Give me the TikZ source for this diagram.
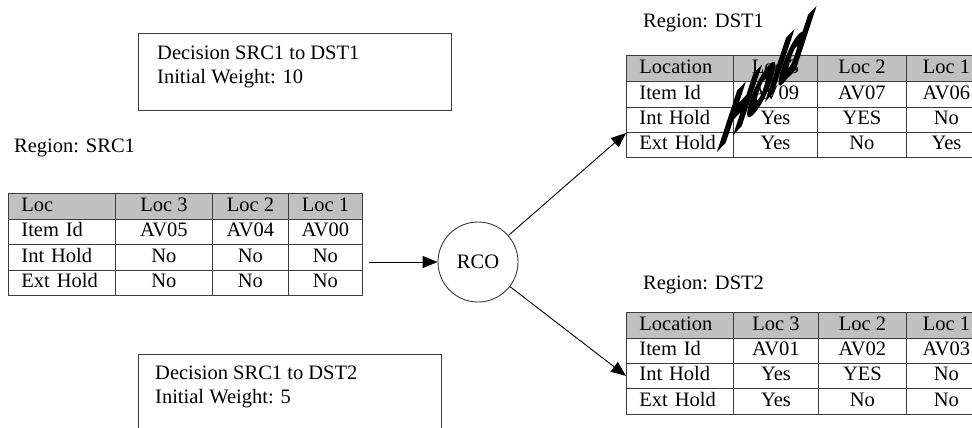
\documentclass[tikz,border=0pt]{standalone}
\usepackage{fontspec}
\setmainfont{Liberation Serif}
\newfontface\holdfont[FakeBold=10]{Liberation Sans Bold Italic}
\usetikzlibrary{arrows.meta}

\definecolor{hdrgray}{RGB}{192,192,192}
\definecolor{gridgray}{RGB}{60,60,60}
\newcommand\cellfont{\fontsize{20.5}{24}\selectfont}

\begin{document}
\begin{tikzpicture}[x=1pt,y=-1pt,
    every node/.style={font=\cellfont},
    cell/.style={draw=gridgray, line width=0.9pt, anchor=north west,
      inner sep=0pt, text height=14pt, text depth=4pt},
    namecell/.style={cell, text width=81pt, inner xsep=13pt, align=left},
    note/.style={draw=gridgray, line width=1.2pt, anchor=north west},
    link/.style={line width=0.9pt, -{Triangle[length=15pt,width=12pt]}}]

  \path[use as bounding box, fill=white] (0,0) rectangle (972,428);

  % --- the two decision notes ---
  \node[note, minimum width=313, minimum height=77] (w1box) at (138,33) {};
  \node[anchor=north west, align=left, inner sep=0pt] (w1text) at (157,46)
    {Decision SRC1 to DST1\\Initial Weight: 10};
  \node[note, minimum width=303, minimum height=77] (w2box) at (138,354) {};
  \node[anchor=north west, align=left, inner sep=0pt] (w2text) at (155,366)
    {Decision SRC1 to DST2\\Initial Weight: 5};

  % --- source region ---
  \node[anchor=west, inner sep=0pt] (srclab) at (14,148) {Region: SRC1};
  \foreach \r/\y/\h/\f/\ta/\tb/\tc/\td in {
      1/193/26/hdrgray/Loc/Loc 3/Loc 2/Loc 1,
      2/219/25/white/Item Id/AV05/AV04/AV00,
      3/244/26/white/Int Hold/No/No/No,
      4/270/25/white/Ext Hold/No/No/No}{
    \node[namecell, fill=\f, minimum height=\h] (s-\r-1) at (8,\y) {\ta};
    \node[cell, fill=\f, minimum height=\h, minimum width=97] (s-\r-2) at (115,\y) {\tb};
    \node[cell, fill=\f, minimum height=\h, minimum width=76] (s-\r-3) at (212,\y) {\tc};
    \node[cell, fill=\f, minimum height=\h, minimum width=74] (s-\r-4) at (288,\y) {\td};
  }

  % --- destination region 1 ---
  \node[anchor=west, inner sep=0pt] (d1lab) at (643,23) {Region: DST1};
  \foreach \r/\y/\h/\f/\ta/\tb/\tc/\td in {
      1/55/26/hdrgray/Location/Loc 3/Loc 2/Loc 1,
      2/81/26/white/Item Id/AV09/AV07/AV06,
      3/107/25/white/Int Hold/Yes/YES/No,
      4/132/25/white/Ext Hold/Yes/No/Yes}{
    \node[namecell, fill=\f, minimum height=\h] (d1-\r-1) at (626,\y) {\ta};
    \node[cell, fill=\f, minimum height=\h, minimum width=84] (d1-\r-2) at (733,\y) {\tb};
    \node[cell, fill=\f, minimum height=\h, minimum width=89] (d1-\r-3) at (817,\y) {\tc};
    \node[cell, fill=\f, minimum height=\h, minimum width=80] (d1-\r-4) at (906,\y) {\td};
  }

  % --- destination region 2 ---
  \node[anchor=west, inner sep=0pt] (d2lab) at (643,285) {Region: DST2};
  \foreach \r/\y/\h/\f/\ta/\tb/\tc/\td in {
      1/312/26/hdrgray/Location/Loc 3/Loc 2/Loc 1,
      2/338/25/white/Item Id/AV01/AV02/AV03,
      3/363/25/white/Int Hold/Yes/YES/No,
      4/388/26/white/Ext Hold/Yes/No/No}{
    \node[namecell, fill=\f, minimum height=\h] (d2-\r-1) at (626,\y) {\ta};
    \node[cell, fill=\f, minimum height=\h, minimum width=85] (d2-\r-2) at (733,\y) {\tb};
    \node[cell, fill=\f, minimum height=\h, minimum width=88] (d2-\r-3) at (818,\y) {\tc};
    \node[cell, fill=\f, minimum height=\h, minimum width=80] (d2-\r-4) at (906,\y) {\td};
  }

  % --- the router and its links ---
  \node[circle, draw=gridgray, line width=0.9pt, minimum size=80, inner sep=0pt] (rco) at (478,262) {RCO};
  \draw[link, shorten <=6pt] (s-3-4.east |- rco.west) -- (rco.west);
  \draw[link] (rco) -- (d1-3-1.south west);
  \draw[link] (rco) -- (d2-3-1.west);

  % --- the stamp over DST1 ---
  \node[font=\holdfont\fontsize{30}{30}\selectfont,
    cm={1.2,1.25,0.62,2.35,(0,0)}, inner sep=0pt] (hold) at (766,80) {Hold};
\end{tikzpicture}
\end{document}
